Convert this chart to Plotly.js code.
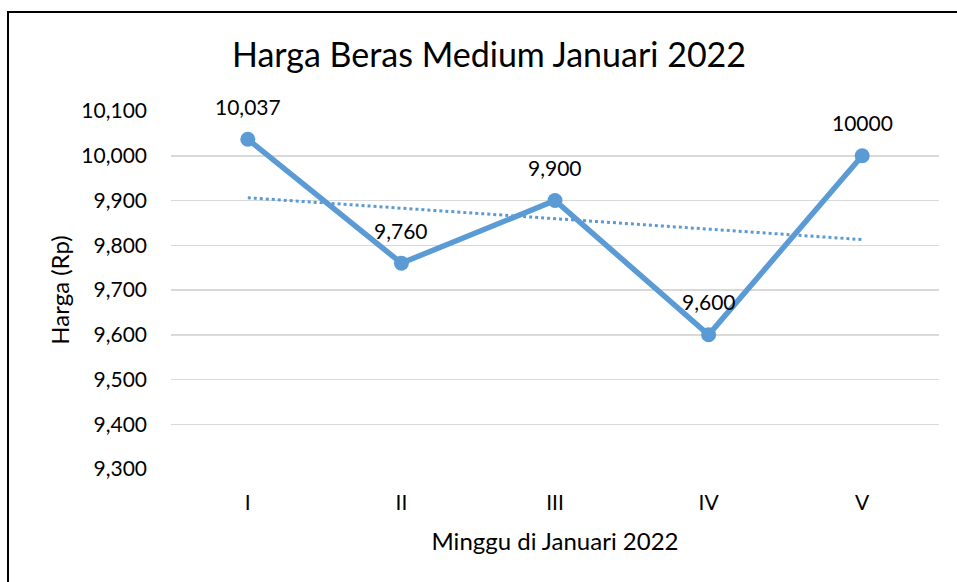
<!DOCTYPE html>
<html>
<head>
<meta charset="utf-8">
<script src="https://cdn.plot.ly/plotly-3.0.1.min.js"></script>
<style>
html,body{margin:0;padding:0;background:#fff;overflow:hidden;}
#wrap{position:relative;width:957px;height:582px;}
#chart{width:957px;height:582px;}
#frame{position:absolute;left:7px;top:11px;width:980px;height:600px;border-left:2px solid #000;border-top:2px solid #000;pointer-events:none;}
</style>
</head>
<body>
<div id="wrap">
<div id="chart"></div>
<div id="frame"></div>
</div>
<script>
var weeks = ["I", "II", "III", "IV", "V"];
var prices = [10037, 9760, 9900, 9600, 10000];
var labels = ["10,037", "9,760", "9,900", "9,600", "10000"];
var yTicks = [9300, 9400, 9500, 9600, 9700, 9800, 9900, 10000, 10100];

// linear trendline (least squares) from the data
var n = prices.length, sx = 0, sy = 0, sxy = 0, sxx = 0;
for (var i = 0; i < n; i++) { sx += i; sy += prices[i]; sxy += i * prices[i]; sxx += i * i; }
var slope = (n * sxy - sx * sy) / (n * sxx - sx * sx);
var intercept = (sy - slope * sx) / n;
var trend = prices.map(function (_, i) { return intercept + slope * i; });

var font = "Lato, 'Open Sans', sans-serif";
var blue = "#5B9BD5";

var traces = [
  {x: weeks, y: trend, type: "scatter", mode: "lines",
   line: {color: blue, width: 3, dash: "dot"}, hoverinfo: "skip"},
  {x: weeks, y: prices, type: "scatter", mode: "lines+markers",
   line: {color: blue, width: 5.5}, marker: {color: blue, size: 15}}
];

var annotations = weeks.map(function (w, i) {
  return {x: w, y: prices[i], xref: "x", yref: "y", text: labels[i], showarrow: false,
          yshift: 33, font: {family: font, size: 21, color: "#000"}};
});

var layout = {
  width: 957, height: 582,
  margin: {l: 171, r: 18, t: 111, b: 113, pad: 0},
  paper_bgcolor: "#fff", plot_bgcolor: "#fff",
  showlegend: false,
  title: {text: "Harga Beras Medium Januari 2022", font: {family: font, size: 34, color: "#000"},
          xref: "container", yref: "container", x: 0.511, y: 1 - 55 / 582, xanchor: "center", yanchor: "middle"},
  xaxis: {type: "category", range: [-0.5, 4.5], showgrid: false, zeroline: false, showline: false,
          ticks: "", ticklabelstandoff: 19, tickfont: {family: font, size: 21, color: "#000"},
          title: {text: "Minggu di Januari 2022", font: {family: font, size: 24, color: "#000"}, standoff: 20}},
  yaxis: {range: [9300, 10100], tickvals: yTicks, tickformat: ",d", showgrid: true, gridcolor: "#d9d9d9", gridwidth: 1.5,
          zeroline: false, showline: false, ticks: "", ticklabelstandoff: 23,
          tickfont: {family: font, size: 21, color: "#000"},
          title: {text: "Harga (Rp)", font: {family: font, size: 24, color: "#000"}, standoff: 4}},
  annotations: annotations
};

Plotly.newPlot("chart", traces, layout, {displayModeBar: false, staticPlot: true});
</script>
</body>
</html>
